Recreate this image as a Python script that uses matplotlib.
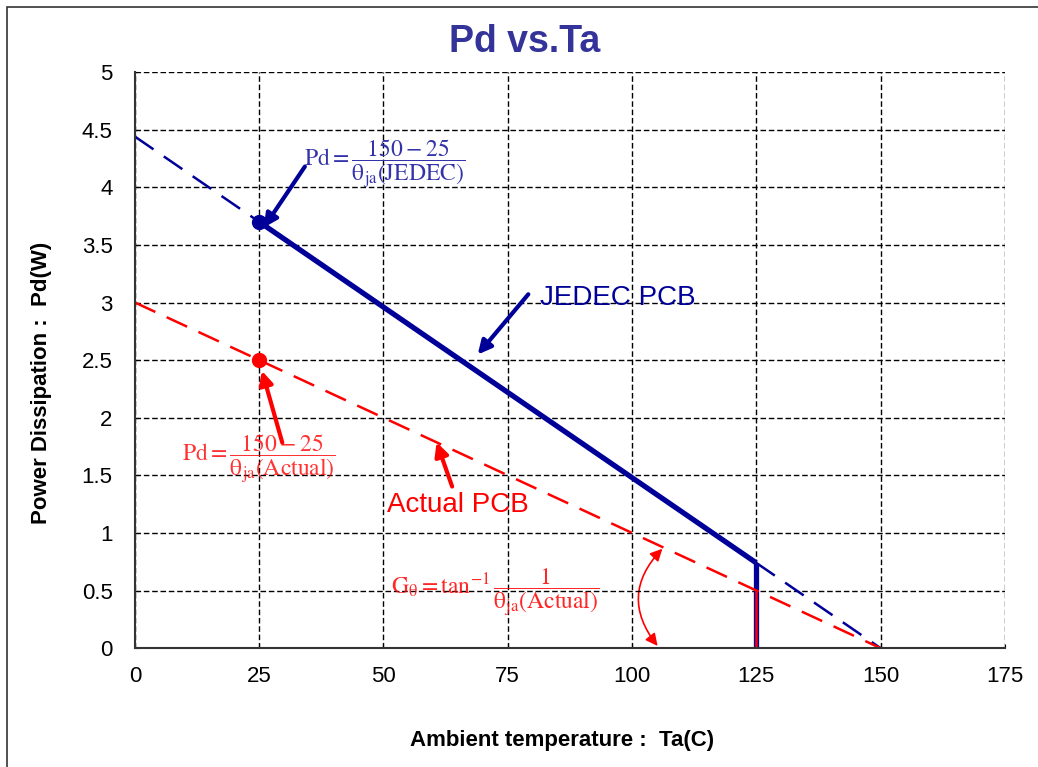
import matplotlib.pyplot as plt
from matplotlib.patches import Rectangle, FancyArrowPatch

plt.rcParams['font.family'] = ['Liberation Sans', 'DejaVu Sans']
plt.rcParams['mathtext.fontset'] = 'stix'

# data
ta_points = [0, 25, 125, 150]
jedec_pd = [4.44, 3.70, 0.74, 0.0]
actual_pd = [3.0, 2.5, 0.5, 0.0]
x_ticks = [0, 25, 50, 75, 100, 125, 150, 175]
y_ticks = [0, 0.5, 1, 1.5, 2, 2.5, 3, 3.5, 4, 4.5, 5]
y_tick_labels = ['0', '0.5', '1', '1.5', '2', '2.5', '3', '3.5', '4', '4.5', '5']

blue = '#000099'
red = '#ff0000'
text_blue = '#3333aa'

fig = plt.figure(figsize=(10.38, 7.67), dpi=100)
ax = fig.add_axes([0.130, 0.155, 0.838, 0.751])

# outer chart frame
fig.patches.append(Rectangle((7 / 1038, -0.1), 1.2, 1.1 - 7 / 767,
                             transform=fig.transFigure, fill=False,
                             edgecolor='#333333', lw=1.2))

# JEDEC PCB line: dashed extensions, solid middle
ax.plot(ta_points[:2], jedec_pd[:2], color=blue, lw=1.8, dashes=(9, 5))
ax.plot(ta_points[2:], jedec_pd[2:], color=blue, lw=1.8, dashes=(9, 5))
ax.plot(ta_points[1:3], jedec_pd[1:3], color=blue, lw=3.8, solid_capstyle='butt')
ax.plot([ta_points[2], ta_points[2]], [0, jedec_pd[2]], color=blue, lw=3.8,
        solid_capstyle='butt')

# Actual PCB line
ax.plot(ta_points, actual_pd, color=red, lw=1.8, dashes=(9, 5))
ax.plot([ta_points[2], ta_points[2]], [0, actual_pd[2]], color=red, lw=1.8,
        solid_capstyle='butt')

ax.plot(ta_points[1], jedec_pd[1], 'o', color=blue, ms=10)
ax.plot(ta_points[1], actual_pd[1], 'o', color=red, ms=10)

ax.set_xlim(0, 175)
ax.set_ylim(0, 5)
ax.set_xticks(x_ticks)
ax.set_yticks(y_ticks)
ax.set_yticklabels(y_tick_labels)
ax.tick_params(labelsize=16, length=3, direction='in')
ax.tick_params(axis='x', pad=13)
ax.tick_params(axis='y', pad=16)
ax.grid(True, color='black', ls=(0, (4, 2)), lw=1)
for s in ['top', 'right']:
    ax.spines[s].set_visible(False)
for s in ['left', 'bottom']:
    ax.spines[s].set_color('#333333')
    ax.spines[s].set_linewidth(1.5)

fig.text(525 / 1038, 1 - 42 / 767, 'Pd vs.Ta', fontsize=27, fontweight='bold',
         color='#333399', ha='center', va='center')
ax.set_xlabel('Ambient temperature :  Ta(C)', fontsize=16, fontweight='bold')
ax.set_ylabel('Power Dissipation :  Pd(W)', fontsize=16, fontweight='bold')
ax.xaxis.set_label_coords((562 - 135) / 870, -(730 - 648) / 576)
ax.yaxis.set_label_coords(-(135 - 52) / 870, (648 - 383) / 576)

# annotations
ax.annotate('', xy=(25.6, 3.63), xytext=(34.5, 4.2),
            arrowprops=dict(arrowstyle='-|>', color=blue, lw=3, mutation_scale=20))
ax.text(34.0, 4.2, r'$\mathrm{Pd} = \dfrac{150-25}{\mathrm{θ}_{\mathrm{ja}}(\mathrm{JEDEC})}$',
        color=text_blue, fontsize=17, va='center', ha='left')

ax.annotate('', xy=(68.6, 2.53), xytext=(79.5, 3.09),
            arrowprops=dict(arrowstyle='-|>', color=blue, lw=3, mutation_scale=20))
ax.text(81.5, 3.04, 'JEDEC PCB', color=blue, fontsize=20, va='center', ha='left')

ax.annotate('', xy=(25.4, 2.43), xytext=(29.8, 1.76),
            arrowprops=dict(arrowstyle='-|>', color=red, lw=3, mutation_scale=20))
ax.text(9.5, 1.64, r'$\mathrm{Pd} = \dfrac{150-25}{\mathrm{θ}_{\mathrm{ja}}(\mathrm{Actual})}$',
        color=red, fontsize=17, va='center', ha='left', alpha=0.8)

ax.annotate('', xy=(60.5, 1.81), xytext=(64.0, 1.38),
            arrowprops=dict(arrowstyle='-|>', color=red, lw=3, mutation_scale=20))
ax.text(50.8, 1.24, 'Actual PCB', color=red, fontsize=20, va='center', ha='left')

ax.text(51.5, 0.48, r'$\mathrm{G}_{\mathrm{θ}} = \tan^{-1}\dfrac{1}{\mathrm{θ}_{\mathrm{ja}}(\mathrm{Actual})}$',
        color=red, fontsize=17, va='center', ha='left', alpha=0.85)
ax.add_patch(FancyArrowPatch((106.5, 0.88), (105.5, 0.0), connectionstyle='arc3,rad=0.45',
                             arrowstyle='<|-|>', color=red, lw=1.2, mutation_scale=18,
                             clip_on=False))

fig.savefig('out.png', dpi=100)
